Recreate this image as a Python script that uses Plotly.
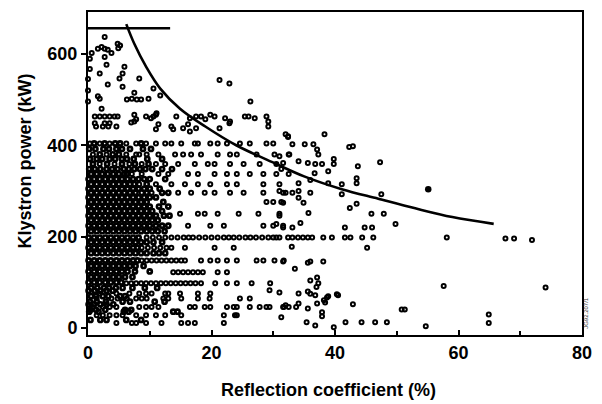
import plotly.graph_objects as go

# ---------------- data ----------------
# scattered points above ~430 kW and in the upper-left region
upper_pts = [
    (2.7, 637), (4.8, 622), (5.2, 618), (1.6, 611), (2.2, 615), (2.7, 611), (3.2, 609),
    (4.9, 612), (3.8, 602), (0.6, 602), (2.7, 593), (0.3, 589), (3.0, 576), (0.3, 567),
    (5.9, 572), (1.9, 557), (5.6, 557), (5.1, 546), (8.3, 546), (21.3, 543), (22.9, 535),
    (3.2, 533), (5.6, 528), (10.6, 524), (7.5, 515), (11.7, 509), (1.6, 507), (1.9, 502),
    (7.1, 502), (9.8, 502), (6.3, 500), (7.9, 500), (8.6, 500), (0.0, 496), (26.3, 496),
    (0.0, 520), (0.0, 545), (2.2, 480), (11.1, 470), (7.5, 467),
    (1.1, 463), (1.9, 463), (2.7, 463), (3.5, 463), (4.3, 463), (4.8, 463), (10.6, 463),
    (14.3, 463), (17.5, 463), (20.5, 463), (25.4, 463), (26.0, 463), (28.9, 463),
    (16.5, 459), (22.2, 459), (7.8, 457), (7.0, 450), (1.1, 448), (2.7, 448), (3.5, 448),
    (22.9, 448), (11.4, 446), (29.2, 441), (15.4, 437), (21.3, 437), (13.8, 435), (16.5, 430),
    (1.3, 441), (2.4, 441), (3.3, 441), (4.6, 441), (7.5, 452), (9.4, 463), (10.2, 459),
    (11.0, 467), (13.5, 441), (11.0, 435), (16.2, 446), (17.5, 437), (18.3, 463), (19.0, 457),
    (19.8, 467), (23.0, 452), (27.0, 459), (29.2, 452), (32.0, 424), (32.4, 418),
]

# scattered points to the right (reflection above ~30 %)
right_pts = [
    (38.3, 424), (32.4, 420), (33.1, 402), (35.1, 402), (36.5, 402), (37.1, 391), (37.3, 380),
    (42.9, 398), (42.3, 396), (32.6, 380), (31.0, 376), (34.1, 365), (35.6, 361), (36.8, 359),
    (37.9, 359), (39.8, 370), (39.8, 359), (43.7, 354), (47.3, 363), (31.6, 361), (31.3, 348),
    (36.7, 339), (38.9, 343), (34.1, 317), (36.0, 324), (38.9, 317), (41.1, 315), (43.5, 328),
    (43.5, 317), (31.0, 300), (32.0, 296), (33.1, 296), (34.1, 300), (34.1, 285), (36.0, 296),
    (41.1, 293), (47.5, 293), (31.6, 274), (34.9, 274), (42.4, 263), (43.5, 272), (31.0, 246),
    (35.7, 252), (45.9, 250), (47.9, 250), (30.5, 228), (31.6, 220), (33.1, 220), (34.4, 230),
    (41.6, 220), (44.8, 220), (46.0, 220), (49.8, 228), (33.0, 178), (45.2, 176), (31.6, 146),
    (33.5, 130), (35.6, 143), (36.0, 146), (38.1, 146), (36.0, 104), (37.1, 111), (37.3, 98),
    (37.0, 90), (31.0, 78), (34.1, 76), (35.6, 80), (36.0, 75), (36.8, 72), (38.9, 70),
    (40.3, 74), (40.5, 72), (42.9, 52), (32.0, 50), (31.7, 46), (31.3, 24), (34.1, 54),
    (35.6, 43), (37.1, 54), (38.4, 56), (37.9, 35), (37.9, 26), (33.7, 46), (38.2, 61),
    (38.7, 67), (50.8, 41), (51.3, 41), (35.4, 13), (36.8, 6), (39.8, 2), (41.7, 13),
    (44.3, 13), (46.5, 13), (48.4, 13), (54.7, 4), (58.1, 198), (67.6, 196), (69.0, 196),
    (71.9, 193), (57.6, 92), (74.1, 89), (64.9, 30), (64.9, 11),
]

# the single filled point
filled_x = [55.1]
filled_y = [304]

# points lying on quantised power rows
row_levels = [404, 380, 359, 337, 315, 296, 276, 250, 224, 198, 176, 148, 122, 98, 83, 76, 65, 46, 28, 11]
row_xs = [
    [0.3, 1.9, 3.5, 6.2, 7.8, 9.4, 11.0, 12.5, 13.5, 15.1, 17.3, 17.8, 19.8, 21.0, 22.5, 24.6, 26.2, 28.9, 30.0],
    [0.8, 3.0, 6.2, 7.8, 8.3, 9.5, 11.4, 14.1, 15.4, 16.7, 18.3, 21.0, 23.0, 24.1, 27.3, 30.2, 32.5],
    [1.9, 4.3, 6.7, 8.7, 11.0, 12.5, 14.6, 17.3, 19.4, 20.5, 23.0, 25.2, 27.8, 30.5],
    [7.1, 8.7, 11.4, 13.0, 16.2, 17.8, 20.5, 22.5, 24.1, 26.2, 28.4, 30.5, 32.5],
    [8.3, 11.0, 13.5, 15.7, 17.8, 19.8, 22.5, 24.1, 28.4, 31.0],
    [8.7, 10.3, 14.6, 16.7, 18.9, 20.5, 23.0, 25.2, 28.4, 31.6],
    [28.9, 30.0, 31.3],
    [14.9, 17.8, 18.9, 21.0, 24.4, 27.6, 31.0],
    [16.2, 19.8, 22.0, 28.4, 30.0, 31.6],
    [9.5, 10.5, 11.5, 12.5, 13.5, 14.5, 15.5, 16.3, 17.0, 18.0, 19.0, 20.0, 21.0, 22.0, 22.8,
     23.6, 24.5, 25.5, 26.3, 27.2, 28.2, 29.2, 30.0, 30.5, 31.0, 32.4, 33.1, 34.0, 34.8, 35.6,
     36.3, 38.1, 39.5, 41.6, 42.5, 44.4, 46.2],
    [8.7, 9.7, 10.7, 11.7, 12.7, 13.5, 15.7, 20.5, 23.6],
    [8.7, 9.5, 10.3, 11.1, 11.9, 12.7, 13.5, 14.3, 15.1, 15.7, 18.3, 19.8, 21.0, 22.5, 24.1, 27.3, 28.4, 30.2, 31.7],
    [13.8, 14.6, 15.4, 16.2, 17.0, 17.8, 18.6, 21.0, 22.5],
    [6.2, 7.0, 7.8, 8.6, 9.4, 10.2, 11.0, 11.8, 12.6, 13.4, 14.2, 15.0, 15.8, 16.6, 17.4, 18.3,
     20.6, 22.5, 24.1, 26.5, 29.5],
    [29.4],
    [1.9, 4.6, 6.7, 8.3, 9.4, 10.3, 12.5, 13.0, 14.9, 17.8, 19.8],
    [1.4, 3.8, 4.8, 6.3, 7.8, 8.7, 9.5, 12.2, 13.0, 15.1, 17.8, 19.7, 24.6, 26.2],
    [0.8, 2.4, 3.5, 4.6, 8.3, 9.4, 10.3, 11.4, 16.5, 17.3, 18.9, 19.8, 22.5, 23.6, 24.1, 26.2,
     27.8, 28.9, 29.4, 31.6, 32.5],
    [1.4, 2.4, 3.5, 4.6, 5.6, 7.8, 9.4, 11.0, 12.5, 15.1, 22.0, 23.8, 24.1],
    [4.6, 7.1, 7.8, 9.4, 11.9, 15.1, 16.2, 17.3, 22.0],
]

# the saturated cluster at low reflection
blob_levels = [392, 404, 380, 370, 359, 348, 337, 326, 315, 305, 296, 286, 276, 266, 256, 246,
               236, 224, 212, 198, 188, 176, 164, 148, 136, 124, 112, 100, 88, 82, 70, 58, 52,
               40, 36, 18]
blob_xs = [
    [0.2, 1.2, 2.5, 3.4, 4.6, 5.5, 6.8, 8.9, 10.2],
    [1.0, 2.7, 4.4, 5.2, 8.6],
    [1.9, 4.0, 5.0],
    [0.3, 1.4, 2.3, 3.5, 4.4, 5.5, 6.3, 7.4, 9.6, 12.0],
    [0.8, 3.1, 5.5, 7.6, 9.8],
    [0.2, 1.1, 2.0, 3.0, 3.9, 4.8, 5.8, 6.6, 7.5, 8.4, 9.3, 10.4, 12.0, 13.6],
    [0.5, 1.4, 2.3, 3.2, 4.1, 5.0, 5.9, 6.3],
    [0.1, 1.0, 1.9, 2.8, 3.7, 4.6, 5.5, 6.4, 7.3, 8.2, 9.1, 10.0, 12.5],
    [0.5, 1.4, 2.3, 3.2, 4.1, 5.0, 5.9, 6.8, 7.5, 9.5],
    [0.1, 1.0, 1.9, 2.8, 3.7, 4.6, 5.5, 6.4, 7.3, 8.2, 9.1, 10.0, 11.6],
    [0.5, 1.4, 2.3, 3.2, 4.1, 5.0, 5.9, 6.8, 7.7, 9.5, 12.0, 13.0],
    [0.1, 1.0, 1.9, 2.8, 3.7, 4.6, 5.5, 6.4, 7.3, 8.2, 9.1, 10.0, 11.0],
    [0.5, 1.4, 2.3, 3.2, 4.1, 5.0, 5.9, 6.8, 7.7, 8.6, 9.5, 12.2],
    [0.1, 1.0, 1.9, 2.8, 3.7, 4.6, 5.5, 6.4, 7.3, 8.2, 9.1, 10.0, 11.5, 13.0],
    [0.5, 1.4, 2.3, 3.2, 4.1, 5.0, 5.9, 6.8, 7.7, 8.6, 9.5, 10.4, 12.0],
    [0.1, 1.0, 1.9, 2.8, 3.7, 4.6, 5.5, 6.4, 7.3, 8.2, 9.1, 10.0, 11.0, 12.3, 13.2],
    [0.5, 1.4, 2.3, 3.2, 4.1, 5.0, 5.9, 6.8, 7.7, 8.6, 9.5, 10.4, 11.3],
    [0.1, 1.0, 1.9, 2.8, 3.7, 4.6, 5.5, 6.4, 7.3, 8.2, 9.1, 10.0, 11.0, 12.0, 13.0],
    [0.5, 1.4, 2.3, 3.2, 4.1, 5.0, 5.9, 6.8, 7.7, 8.6, 9.5, 10.4, 11.3, 12.4],
    [0.1, 1.0, 1.9, 2.8, 3.7, 4.6, 5.5, 6.4, 7.3, 8.2],
    [0.5, 1.4, 2.3, 3.2, 4.1, 5.0, 5.9, 6.8, 7.7, 8.6, 9.5, 10.6, 12.0],
    [0.1, 1.0, 1.9, 2.8, 3.7, 4.6, 5.5, 6.4, 7.3, 8.0],
    [0.5, 1.4, 2.3, 3.2, 4.1, 5.0, 5.9, 6.8, 7.7, 8.6, 9.5, 10.6, 11.5, 12.5],
    [0.1, 1.0, 1.9, 2.8, 3.7, 4.6, 5.5, 6.4, 7.3, 8.0],
    [0.5, 1.4, 2.3, 3.2, 4.1, 5.0, 5.9, 6.8, 7.7, 9.0],
    [0.1, 1.0, 1.9, 2.8, 3.7, 4.6, 5.5, 6.4, 7.6, 10.0],
    [0.5, 1.4, 2.3, 3.2, 4.1, 5.0, 6.0, 7.2],
    [0.1, 1.0, 1.9, 2.8, 3.7, 4.6, 5.4],
    [0.5, 1.5, 2.6, 3.4, 4.5, 5.6, 7.2, 9.2, 11.2],
    [0.1, 1.1, 2.0, 3.0, 4.0],
    [0.5, 1.3, 2.4, 3.3, 5.2, 6.0],
    [0.3, 1.4, 2.9, 5.6, 6.8, 10.8, 12.4],
    [0.1, 1.0, 2.0, 3.0, 4.1],
    [0.4, 1.3, 2.8, 6.0, 7.0],
    [0.2, 1.7, 5.8, 6.6, 13.8, 14.5],
    [0.4, 2.0, 3.0, 6.2, 8.6],
]

# limiting curve and the horizontal cap line
limit_x = [6.2, 7.5, 9.4, 11.7, 14.9, 19.0, 24.0, 30.5, 35.0, 41.1, 47.0, 53.0, 59.0, 65.7]
limit_y = [665, 622, 572, 524, 480, 441, 400, 359, 332, 304, 283, 262, 243, 228]
cap_x = [0, 13.3]
cap_y = [656, 656]

x_ticks = [0, 20, 40, 60, 80]
y_ticks = [0, 200, 400, 600]
x_title = "Reflection coefficient (%)"
y_title = "Klystron power (kW)"
ref_code = "JG92.207/1"

# ---------------- build point arrays ----------------
px, py = [], []
for x, y in upper_pts + right_pts:
    px.append(x); py.append(y)
for lvl, xs in zip(row_levels, row_xs):
    px.extend(xs); py.extend([lvl] * len(xs))

bx, by = [], []
for lvl, xs in zip(blob_levels, blob_xs):
    bx.extend(xs); by.extend([lvl] * len(xs))

FONT = "Liberation Sans"

fig = go.Figure()
fig.add_trace(go.Scatter(
    x=bx, y=by, mode="markers", cliponaxis=False,
    marker=dict(symbol="circle-open", size=4.2, color="black", line=dict(width=2.6, color="black")),
))
fig.add_trace(go.Scatter(
    x=px, y=py, mode="markers", cliponaxis=False,
    marker=dict(symbol="circle-open", size=4, color="black", line=dict(width=2, color="black")),
))
fig.add_trace(go.Scatter(
    x=filled_x, y=filled_y, mode="markers",
    marker=dict(symbol="circle", size=6.5, color="black"),
))
fig.add_trace(go.Scatter(x=limit_x, y=limit_y, mode="lines", line=dict(color="black", width=2.6, shape="spline")))
fig.add_trace(go.Scatter(x=cap_x, y=cap_y, mode="lines", line=dict(color="black", width=2.6), cliponaxis=False))

axis_common = dict(
    showline=True, linewidth=2, linecolor="black", mirror=True,
    showgrid=False, zeroline=False, tickcolor="black", tickwidth=1.5,
    tickfont=dict(family=FONT, size=18, color="black", weight="bold"),
)
fig.update_xaxes(range=[0, 80], tickvals=x_ticks, ticks="inside", ticklen=5,
                 minor=dict(dtick=10, ticks="inside", ticklen=4, tickcolor="black"),
                 **axis_common)
fig.update_yaxes(range=[-15, 691.5], tickvals=y_ticks, ticks="outside", ticklen=5, **axis_common)

fig.update_layout(
    width=602, height=404,
    margin=dict(l=88, r=10, t=10, b=69),
    paper_bgcolor="white", plot_bgcolor="white",
    showlegend=False,
    font=dict(family=FONT, color="black"),
    annotations=[
        dict(text=x_title, xref="paper", yref="paper", x=0.486, y=-0.169,
             xanchor="center", yanchor="middle", showarrow=False,
             font=dict(family=FONT, size=18, color="black", weight="bold")),
        dict(text=y_title, xref="paper", yref="paper", x=-0.127, y=0.538, textangle=-90,
             xanchor="center", yanchor="middle", showarrow=False,
             font=dict(family=FONT, size=18, color="black", weight="bold")),
        dict(text=ref_code, xref="paper", yref="paper", x=1.009, y=0.07, textangle=-90,
             xanchor="center", yanchor="middle", showarrow=False,
             font=dict(family=FONT, size=6, color="#333")),
    ],
)

fig.write_html("out.html")
